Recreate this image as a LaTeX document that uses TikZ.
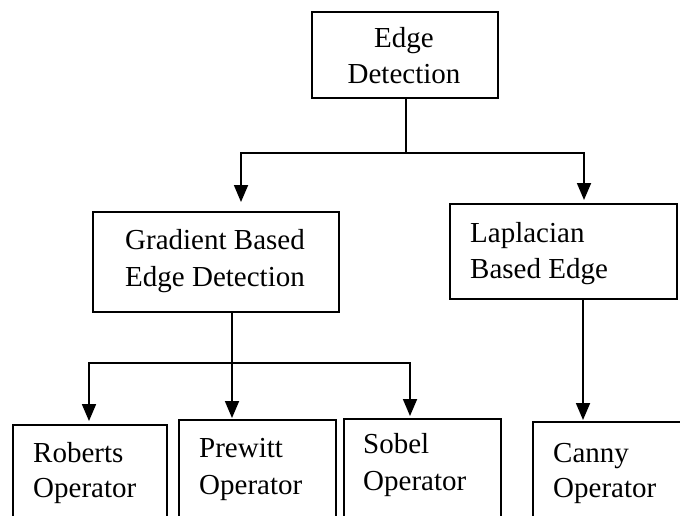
\documentclass[tikz,border=0pt]{standalone}
\usepackage{fontspec}
\setmainfont{Liberation Serif}
\usetikzlibrary{arrows.meta}
\begin{document}
\begin{tikzpicture}[x=1pt,y=-1pt,
  box/.style={draw,line width=1.6pt,anchor=north west,inner sep=0pt},
  lbl/.style={anchor=base west,inner sep=0pt,font=\fontsize{29}{36}\selectfont},
  clbl/.style={anchor=base,inner sep=0pt,font=\fontsize{29}{36}\selectfont},
  conn/.style={line width=1.8pt},
  arr/.style={line width=1.8pt,-{Triangle[width=14pt,length=17pt]}}]
\useasboundingbox (0,0) rectangle (680,515);
\clip (0,0) rectangle (680,515);
% boxes
\node[box,minimum width=186pt,minimum height=86pt] (top) at (311,11) {};
\node[box,minimum width=246pt,minimum height=100pt] (grad) at (92,211) {};
\node[box,minimum width=227pt,minimum height=95pt] (lap) at (449,203) {};
\node[box,minimum width=154pt,minimum height=120pt] (rob) at (12,424) {};
\node[box,minimum width=157pt,minimum height=120pt] (pre) at (178,419) {};
\node[box,minimum width=157pt,minimum height=120pt] (sob) at (343,418) {};
\node[box,minimum width=180pt,minimum height=120pt] (can) at (532,421) {};
% texts
\node[clbl] (t1) at (404,47) {Edge};
\node[clbl] (t2) at (404,83) {Detection};
\node[clbl] (g1) at (215,249) {Gradient Based};
\node[clbl] (g2) at (215,286) {Edge Detection};
\node[lbl] (l1) at (470,242) {Laplacian};
\node[lbl] (l2) at (470,278) {Based Edge};
\node[lbl] (r1) at (33,462) {Roberts};
\node[lbl] (r2) at (33,497) {Operator};
\node[lbl] (p1) at (199,457) {Prewitt};
\node[lbl] (p2) at (199,494) {Operator};
\node[lbl] (s1) at (363,453) {Sobel};
\node[lbl] (s2) at (363,490) {Operator};
\node[lbl] (c1) at (553,462) {Canny};
\node[lbl] (c2) at (553,497) {Operator};
% coordinates
\coordinate (ts) at (406,97);
\coordinate (j1) at (406,153);
\coordinate (ga) at (241,202);
\coordinate (la) at (584,200);
\coordinate (gs) at (232,313);
\coordinate (pa) at (232,418);
\coordinate (j2) at (232,363);
\coordinate (ra) at (89,421);
\coordinate (sa) at (410,416);
\coordinate (ls) at (583,298);
\coordinate (ca) at (583,420);
% connectors
\draw[conn] (ts) -- (j1);
\draw[arr] (j1) -| (ga);
\draw[arr] (j1) -| (la);
\draw[arr] (gs) -- (pa);
\draw[arr] (j2) -| (ra);
\draw[arr] (j2) -| (sa);
\draw[arr] (ls) -- (ca);
\end{tikzpicture}
\end{document}
